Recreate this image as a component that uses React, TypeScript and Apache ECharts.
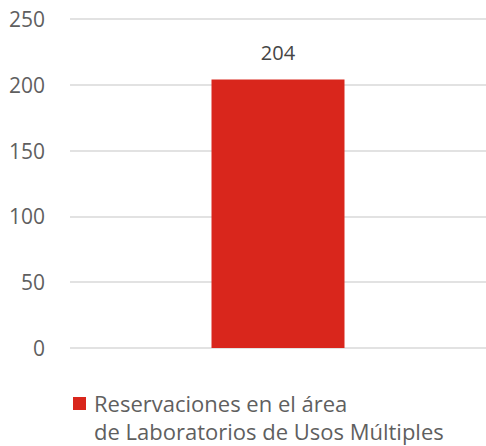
import React, { useEffect, useRef } from "react";
import * as echarts from "echarts";

const categories = ["Reservaciones"];
const values = [204];
const seriesName = "Reservaciones en el área\nde Laboratorios de Usos Múltiples";
const yTicks = { min: 0, max: 250, interval: 50 };

export default function App() {
  const ref = useRef<HTMLDivElement>(null);
  useEffect(() => {
    if (!ref.current) return;
    const chart = echarts.init(ref.current, undefined, { renderer: "svg" });
    const font = "'Open Sans', 'Noto Sans', sans-serif";
    const [line1, line2] = seriesName.split("\n");
    chart.setOption({
      animation: false,
      backgroundColor: "#ffffff",
      grid: { left: 70, right: 0, top: 19, bottom: 98, containLabel: false },
      xAxis: {
        type: "category",
        data: categories,
        axisLine: { show: false },
        axisTick: { show: false },
        axisLabel: { show: false },
      },
      yAxis: {
        type: "value",
        min: yTicks.min,
        max: yTicks.max,
        interval: yTicks.interval,
        axisLine: { show: false },
        axisTick: { show: false },
        axisLabel: { color: "#5f5f5f", fontSize: 21, fontFamily: font, margin: 25 },
        splitLine: { lineStyle: { color: "#d9d9d9", width: 1.5 } },
      },
      series: [
        {
          type: "bar",
          name: seriesName,
          data: values,
          barWidth: 133,
          itemStyle: { color: "#d9261c" },
          label: {
            show: true,
            position: "top",
            distance: 17,
            color: "#454545",
            fontSize: 20,
            fontFamily: font,
          },
        },
      ],
      graphic: [
        { type: "rect", x: 73, y: 397, shape: { width: 13, height: 13 }, style: { fill: "#d9261c" } },
        {
          type: "text",
          x: 94,
          y: 403,
          style: { text: line1, fill: "#5f5f5f", fontSize: 22, fontFamily: font, verticalAlign: "middle" },
        },
        {
          type: "text",
          x: 94,
          y: 431,
          style: { text: line2, fill: "#5f5f5f", fontSize: 22, fontFamily: font, verticalAlign: "middle" },
        },
      ],
    });
    return () => chart.dispose();
  }, []);
  return (
    <div
      ref={ref}
      style={{ width: 486, height: 446, position: "absolute", left: 0, top: 0 }}
    />
  );
}
